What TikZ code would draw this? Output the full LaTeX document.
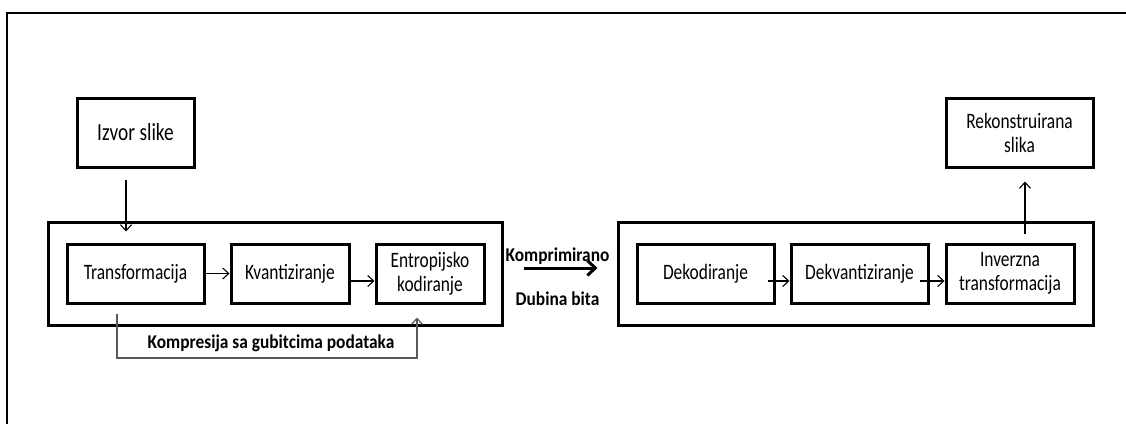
\documentclass[tikz,border=0pt]{standalone}
\usepackage{fontspec}
\setmainfont{Carlito}[FakeStretch=0.79]
\newfontfamily\oznaka{Carlito}[FakeStretch=0.89]
\usetikzlibrary{arrows.meta}

\begin{document}
\begin{tikzpicture}[x=1pt, y=-1pt,
    blok/.style={draw=black, line width=3pt, minimum height=59pt, inner sep=0pt, align=center, font=\fontsize{22}{24}\selectfont},
    okvir/.style={draw=black, line width=3pt, minimum height=103pt, inner sep=0pt},
    strelica/.style={line width=1.1pt, -{Straight Barb[length=6pt, width=11pt]}},
    povrat/.style={draw=black!65, line width=1.2pt, -{Straight Barb[length=6pt, width=11pt]}},
    debela/.style={line width=3pt, -{Straight Barb[length=8pt, width=15pt]}},
    natpis/.style={font=\oznaka\bfseries\fontsize{19.5}{22}\selectfont, inner sep=0pt, anchor=base}]
  \useasboundingbox (0,0) rectangle (1126,424);
  \fill[white] (0,0) rectangle (1126,424);
  % outer frame
  \draw[line width=2pt] (7,424) -- (7,12.5) -- (1126,12.5);

  % coder side
  \node[okvir, minimum width=454pt] (koder) at (275,273.5) {};
  \node[blok, minimum width=117pt, minimum height=69pt, font=\fontsize{24.5}{26}\selectfont] (izvor) at (135.5,132.5) {Izvor slike};
  \node[blok, minimum width=137pt] (transf) at (135.5,273.5) {Transformacija};
  \node[blok, minimum width=118pt] (kvant) at (290,273.5) {Kvantiziranje};
  \node[blok, minimum width=108pt] (entrop) at (430,273.5) {Entropijsko\\kodiranje};

  % decoder side
  \node[okvir, minimum width=475pt] (dekoder) at (855.5,273.5) {};
  \node[blok, minimum width=137pt] (dekod) at (705.5,273.5) {Dekodiranje};
  \node[blok, minimum width=137pt] (dekvant) at (859.5,273.5) {Dekvantiziranje};
  \node[blok, minimum width=128pt] (inverz) at (1010,273.5) {Inverzna\\transformacija};
  \node[blok, minimum width=147pt, minimum height=69pt] (rekon) at (1019.5,132.5) {Rekonstruirana\\slika};

  % labels
  \node[natpis] (gubici) at (271,348) {Kompresija sa gubitcima podataka};
  \node[natpis] (kompr) at (557.5,261) {Komprimirano};
  \node[natpis] (dubina) at (557.5,305) {Dubina bita};

  % arrows
  \draw[strelica, shorten <=11pt, shorten >=11pt] ([xshift=-9.5pt]izvor.south) -- ([xshift=-9.5pt]transf.north);
  \draw[strelica] (transf.east) -- (kvant.west);
  \draw[strelica] ([yshift=-7.5pt]kvant.east) -- ([yshift=-7.5pt]entrop.west);
  \draw[povrat] ([xshift=-18.5pt,yshift=-9pt]transf.south) |- ([yshift=-10pt]gubici.base) -| ([xshift=-13pt,yshift=-13pt]entrop.south);
  \draw[debela] ([xshift=20pt,yshift=5.5pt]koder.east) -- ([xshift=-19pt,yshift=5.5pt]dekoder.west);
  \draw[strelica] ([xshift=-8pt,yshift=-7.5pt]dekod.east) -- ([yshift=-7.5pt]dekvant.west);
  \draw[strelica] ([xshift=-10pt,yshift=-7.5pt]dekvant.east) -- ([yshift=-7.5pt]inverz.west);
  \coordinate (izlaz) at ([xshift=15pt]inverz.north);
  \draw[strelica, shorten <=9pt, shorten >=13pt] (izlaz) -- (izlaz |- rekon.south);
\end{tikzpicture}
\end{document}
